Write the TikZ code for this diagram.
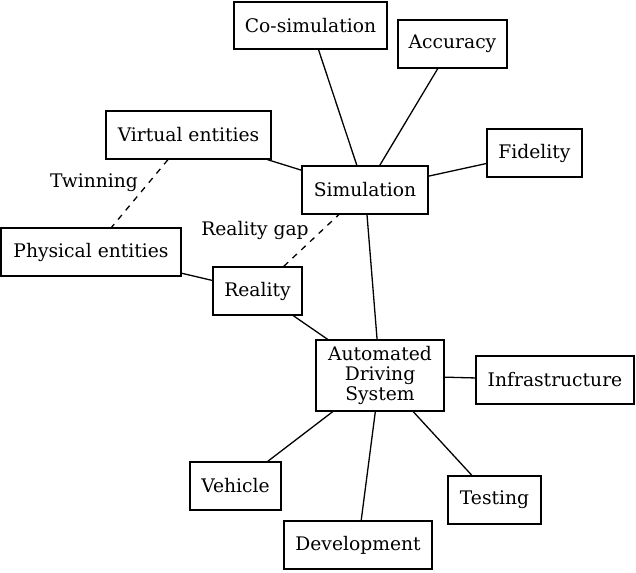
\documentclass[tikz,border=0pt]{standalone}
\usepackage{fontspec}
\setmainfont{DejaVu Serif}
\begin{document}
\begin{tikzpicture}[x=1pt,y=-1pt,
  box/.style={draw,line width=1.3pt,rectangle,inner sep=0pt,align=center,font=\fontsize{18.7}{20}\selectfont},
  lbl/.style={inner sep=0pt,font=\fontsize{18.7}{20}\selectfont},
  conn/.style={line width=1.3pt},
  dconn/.style={line width=1.3pt,dash pattern=on 6pt off 6pt}]
\useasboundingbox (0,0) rectangle (636,572);
\node[box,minimum width=153,minimum height=47] (cosim) at (310.5,25.5) {Co-simulation};
\node[box,minimum width=109,minimum height=48] (acc) at (452.5,44) {Accuracy};
\node[box,minimum width=165,minimum height=48] (virt) at (188.5,135) {Virtual entities};
\node[box,minimum width=95,minimum height=48] (fid) at (534.5,153) {Fidelity};
\node[box,minimum width=126,minimum height=48] (sim) at (365,190) {Simulation};
\node[box,minimum width=180,minimum height=48] (phys) at (91,252) {Physical entities};
\node[box,minimum width=89,minimum height=48] (real) at (257.5,291) {Reality};
\node[box,minimum width=128,minimum height=71] (ads) at (380,375.5) {Automated\\Driving\\System};
\node[box,minimum width=158,minimum height=48] (infra) at (555,380) {Infrastructure};
\node[box,minimum width=91,minimum height=48] (veh) at (235.5,486) {Vehicle};
\node[box,minimum width=93,minimum height=48] (test) at (494.5,500) {Testing};
\node[box,minimum width=148,minimum height=48] (dev) at (358,545) {Development};
\node[lbl] (twin) at (94,183) {Twinning};
\node[lbl] (gap) at (255,230) {Reality gap};
\draw[conn] (cosim) -- (sim);
\draw[conn] (acc) -- (sim);
\draw[conn] (virt) -- (sim);
\draw[conn] (fid) -- (sim);
\draw[conn] (sim) -- (ads);
\draw[conn] (phys) -- (real);
\draw[conn] (real) -- (ads);
\draw[conn] (infra) -- (ads);
\draw[conn] (veh) -- (ads);
\draw[conn] (test) -- (ads);
\draw[conn] (dev) -- (ads);
\draw[dconn] (virt) -- (phys);
\draw[dconn] (real) -- (sim);
\end{tikzpicture}
\end{document}
